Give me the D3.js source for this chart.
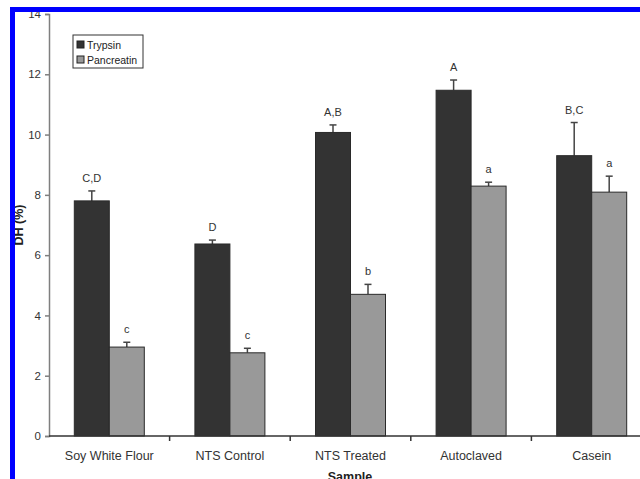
<!DOCTYPE html>
<html>
<head>
<meta charset="utf-8">
<script src="https://cdn.jsdelivr.net/npm/d3@7"></script>
<style>
  html, body { margin: 0; padding: 0; background: #fff; }
  svg { display: block; }
  text { font-family: "Liberation Sans", Arial, sans-serif; }
</style>
</head>
<body>
<svg id="chart" width="640" height="479"></svg>
<script>
// Degree of hydrolysis by enzyme and sample
const categories = ["Soy White Flour", "NTS Control", "NTS Treated", "Autoclaved", "Casein"];
const series = ["Trypsin", "Pancreatin"];
const trypsin = [7.8, 6.37, 10.07, 11.47, 9.3];
const trypsinErr = [0.33, 0.13, 0.25, 0.34, 1.1];
const trypsinLetters = ["C,D", "D", "A,B", "A", "B,C"];
const pancreatin = [2.95, 2.76, 4.7, 8.29, 8.09];
const pancreatinErr = [0.16, 0.15, 0.33, 0.13, 0.53];
const pancreatinLetters = ["c", "c", "b", "a", "a"];
const yTicks = [0, 2, 4, 6, 8, 10, 12, 14];

const colors = { Trypsin: "#333333", Pancreatin: "#999999" };
const axisColor = "#7f7f7f";

const svg = d3.select("#chart");

const x0 = d3.scaleBand().domain(categories).range([49, 652]).paddingInner(0).paddingOuter(0);
const x1 = d3.scaleBand().domain(series).range([0, x0.bandwidth()]).paddingInner(0).paddingOuter(0.723);
const y = d3.scaleLinear().domain([0, 14]).range([436, 14]);

const rows = categories.map((c, i) => ({
  cat: c,
  items: [
    { s: "Trypsin", v: trypsin[i], e: trypsinErr[i], l: trypsinLetters[i] },
    { s: "Pancreatin", v: pancreatin[i], e: pancreatinErr[i], l: pancreatinLetters[i] }
  ]
}));

const groups = svg.append("g").selectAll("g")
  .data(rows).join("g")
  .attr("transform", d => `translate(${x0(d.cat)},0)`);

const items = groups.selectAll("g.item")
  .data(d => d.items).join("g").attr("class", "item");

// error bars (upper only)
items.append("line")
  .attr("x1", d => x1(d.s) + x1.bandwidth() / 2)
  .attr("x2", d => x1(d.s) + x1.bandwidth() / 2)
  .attr("y1", d => y(d.v))
  .attr("y2", d => y(d.v + d.e))
  .attr("stroke", "#444").attr("stroke-width", 1.5);
items.append("line")
  .attr("x1", d => x1(d.s) + x1.bandwidth() / 2 - 3.5)
  .attr("x2", d => x1(d.s) + x1.bandwidth() / 2 + 3.5)
  .attr("y1", d => y(d.v + d.e))
  .attr("y2", d => y(d.v + d.e))
  .attr("stroke", "#444").attr("stroke-width", 1.5);

items.append("rect")
  .attr("x", d => x1(d.s))
  .attr("width", x1.bandwidth())
  .attr("y", d => y(d.v))
  .attr("height", d => y(0) - y(d.v))
  .attr("fill", d => colors[d.s])
  .attr("stroke", "#2a2a2a").attr("stroke-width", 1);

items.append("text")
  .attr("x", d => x1(d.s) + x1.bandwidth() / 2)
  .attr("y", d => y(d.v + d.e) - 9)
  .attr("text-anchor", "middle")
  .attr("font-size", 11)
  .attr("fill", "#333")
  .text(d => d.l);

// y axis
const yAxis = svg.append("g")
  .attr("transform", "translate(49,0)")
  .call(d3.axisLeft(y).tickValues(yTicks).tickSize(4).tickPadding(4));
yAxis.select(".domain").attr("stroke", axisColor).attr("stroke-width", 1.5);
yAxis.selectAll(".tick line").attr("stroke", axisColor).attr("stroke-width", 1.5);
yAxis.selectAll(".tick text").attr("font-size", 11.5).attr("fill", "#333")
  .style("font-family", "Liberation Sans, Arial, sans-serif");

// x axis: ticks at category boundaries
const xAxis = svg.append("g").attr("transform", "translate(0,436)");
xAxis.append("line").attr("x1", 49).attr("x2", 652).attr("y1", 0).attr("y2", 0)
  .attr("stroke", "#333").attr("stroke-width", 1.5);
xAxis.selectAll("line.tk").data(categories.slice(1)).join("line").attr("class", "tk")
  .attr("x1", d => x0(d)).attr("x2", d => x0(d))
  .attr("y1", 0).attr("y2", 5)
  .attr("stroke", "#333").attr("stroke-width", 1.5);
xAxis.selectAll("text").data(categories).join("text")
  .attr("x", d => x0(d) + x0.bandwidth() / 2)
  .attr("y", 24)
  .attr("text-anchor", "middle")
  .attr("font-size", 12.5)
  .attr("fill", "#333")
  .text(d => d);

// axis titles
svg.append("text")
  .attr("x", 350).attr("y", 481)
  .attr("text-anchor", "middle")
  .attr("font-size", 12.5).attr("font-weight", "bold").attr("fill", "#222")
  .text("Sample");
svg.append("text")
  .attr("transform", "translate(23,225) rotate(-90)")
  .attr("text-anchor", "middle")
  .attr("font-size", 12.5).attr("font-weight", "bold").attr("fill", "#222")
  .text("DH (%)");

// legend
const legend = svg.append("g").attr("transform", "translate(73,35)");
legend.append("rect").attr("width", 70).attr("height", 33)
  .attr("fill", "#fff").attr("stroke", "#333").attr("stroke-width", 1);
const li = legend.selectAll("g").data(series).join("g")
  .attr("transform", (d, i) => `translate(4,${6 + i * 15})`);
li.append("rect").attr("width", 7).attr("height", 7)
  .attr("fill", d => colors[d]).attr("stroke", "#222").attr("stroke-width", 1);
li.append("text").attr("x", 10).attr("y", 7.5)
  .attr("font-size", 10.5).attr("fill", "#222")
  .text(d => d);

// blue frame
svg.append("rect").attr("x", 10).attr("y", 7).attr("width", 5).attr("height", 472).attr("fill", "#0000ff");
svg.append("rect").attr("x", 10).attr("y", 7).attr("width", 630).attr("height", 5).attr("fill", "#0000ff");
</script>
</body>
</html>
